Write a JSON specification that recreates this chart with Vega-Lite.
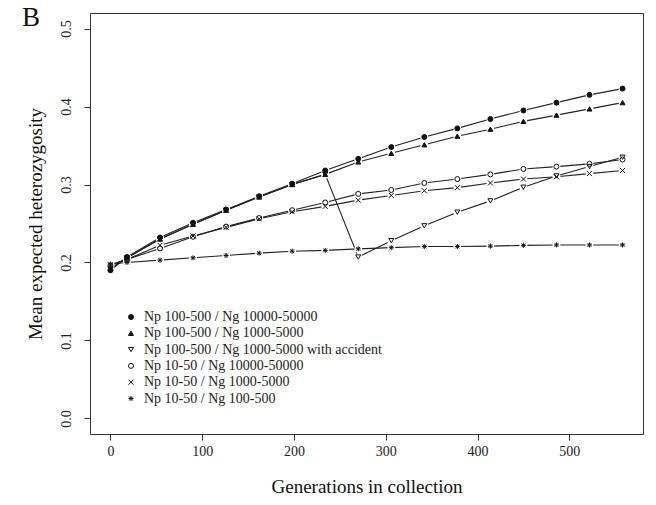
{
  "$schema": "https://vega.github.io/schema/vega-lite/v6.json",
  "width": 553,
  "height": 421,
  "autosize": {"type": "none"},
  "padding": {"left": 90, "top": 13, "right": 13, "bottom": 71},
  "background": "white",
  "title": {"text": "B", "anchor": "start", "frame": "group", "font": "Liberation Serif", "fontSize": 27, "fontWeight": "normal", "color": "#111", "dx": -68, "offset": -40, "baseline": "alphabetic"},
  "config": {
    "view": {"stroke": "#333", "strokeWidth": 1},
    "axis": {"grid": false, "domain": false, "tickColor": "#333", "tickSize": 6, "labelFont": "Liberation Serif", "labelFontSize": 14, "labelColor": "#222", "titleFont": "Liberation Serif", "titleFontSize": 19, "titleFontWeight": "normal", "titleColor": "#111"},
    "legend": {"labelFont": "Liberation Serif", "labelFontSize": 14, "labelColor": "#222", "labelLimit": 400}
  },
  "data": {"values": [
    {"g":0,"h":0.190,"s":"Np 100-500 / Ng 10000-50000"},{"g":18,"h":0.207,"s":"Np 100-500 / Ng 10000-50000"},{"g":54,"h":0.232,"s":"Np 100-500 / Ng 10000-50000"},{"g":90,"h":0.251,"s":"Np 100-500 / Ng 10000-50000"},{"g":126,"h":0.268,"s":"Np 100-500 / Ng 10000-50000"},{"g":162,"h":0.285,"s":"Np 100-500 / Ng 10000-50000"},{"g":198,"h":0.301,"s":"Np 100-500 / Ng 10000-50000"},{"g":234,"h":0.318,"s":"Np 100-500 / Ng 10000-50000"},{"g":270,"h":0.333,"s":"Np 100-500 / Ng 10000-50000"},{"g":306,"h":0.348,"s":"Np 100-500 / Ng 10000-50000"},{"g":342,"h":0.361,"s":"Np 100-500 / Ng 10000-50000"},{"g":378,"h":0.372,"s":"Np 100-500 / Ng 10000-50000"},{"g":414,"h":0.384,"s":"Np 100-500 / Ng 10000-50000"},{"g":450,"h":0.395,"s":"Np 100-500 / Ng 10000-50000"},{"g":486,"h":0.405,"s":"Np 100-500 / Ng 10000-50000"},{"g":522,"h":0.415,"s":"Np 100-500 / Ng 10000-50000"},{"g":558,"h":0.423,"s":"Np 100-500 / Ng 10000-50000"},
    {"g":0,"h":0.192,"s":"Np 100-500 / Ng 1000-5000"},{"g":18,"h":0.206,"s":"Np 100-500 / Ng 1000-5000"},{"g":54,"h":0.230,"s":"Np 100-500 / Ng 1000-5000"},{"g":90,"h":0.249,"s":"Np 100-500 / Ng 1000-5000"},{"g":126,"h":0.267,"s":"Np 100-500 / Ng 1000-5000"},{"g":162,"h":0.284,"s":"Np 100-500 / Ng 1000-5000"},{"g":198,"h":0.300,"s":"Np 100-500 / Ng 1000-5000"},{"g":234,"h":0.313,"s":"Np 100-500 / Ng 1000-5000"},{"g":270,"h":0.329,"s":"Np 100-500 / Ng 1000-5000"},{"g":306,"h":0.340,"s":"Np 100-500 / Ng 1000-5000"},{"g":342,"h":0.351,"s":"Np 100-500 / Ng 1000-5000"},{"g":378,"h":0.362,"s":"Np 100-500 / Ng 1000-5000"},{"g":414,"h":0.371,"s":"Np 100-500 / Ng 1000-5000"},{"g":450,"h":0.381,"s":"Np 100-500 / Ng 1000-5000"},{"g":486,"h":0.389,"s":"Np 100-500 / Ng 1000-5000"},{"g":522,"h":0.397,"s":"Np 100-500 / Ng 1000-5000"},{"g":558,"h":0.405,"s":"Np 100-500 / Ng 1000-5000"},
    {"g":0,"h":0.192,"s":"Np 100-500 / Ng 1000-5000 with accident"},{"g":18,"h":0.206,"s":"Np 100-500 / Ng 1000-5000 with accident"},{"g":54,"h":0.230,"s":"Np 100-500 / Ng 1000-5000 with accident"},{"g":90,"h":0.249,"s":"Np 100-500 / Ng 1000-5000 with accident"},{"g":126,"h":0.267,"s":"Np 100-500 / Ng 1000-5000 with accident"},{"g":162,"h":0.284,"s":"Np 100-500 / Ng 1000-5000 with accident"},{"g":198,"h":0.300,"s":"Np 100-500 / Ng 1000-5000 with accident"},{"g":234,"h":0.313,"s":"Np 100-500 / Ng 1000-5000 with accident"},{"g":270,"h":0.207,"s":"Np 100-500 / Ng 1000-5000 with accident"},{"g":306,"h":0.228,"s":"Np 100-500 / Ng 1000-5000 with accident"},{"g":342,"h":0.247,"s":"Np 100-500 / Ng 1000-5000 with accident"},{"g":378,"h":0.2645,"s":"Np 100-500 / Ng 1000-5000 with accident"},{"g":414,"h":0.279,"s":"Np 100-500 / Ng 1000-5000 with accident"},{"g":450,"h":0.2965,"s":"Np 100-500 / Ng 1000-5000 with accident"},{"g":486,"h":0.311,"s":"Np 100-500 / Ng 1000-5000 with accident"},{"g":522,"h":0.323,"s":"Np 100-500 / Ng 1000-5000 with accident"},{"g":558,"h":0.335,"s":"Np 100-500 / Ng 1000-5000 with accident"},
    {"g":0,"h":0.196,"s":"Np 10-50 / Ng 10000-50000"},{"g":18,"h":0.204,"s":"Np 10-50 / Ng 10000-50000"},{"g":54,"h":0.218,"s":"Np 10-50 / Ng 10000-50000"},{"g":90,"h":0.233,"s":"Np 10-50 / Ng 10000-50000"},{"g":126,"h":0.246,"s":"Np 10-50 / Ng 10000-50000"},{"g":162,"h":0.257,"s":"Np 10-50 / Ng 10000-50000"},{"g":198,"h":0.267,"s":"Np 10-50 / Ng 10000-50000"},{"g":234,"h":0.277,"s":"Np 10-50 / Ng 10000-50000"},{"g":270,"h":0.288,"s":"Np 10-50 / Ng 10000-50000"},{"g":306,"h":0.293,"s":"Np 10-50 / Ng 10000-50000"},{"g":342,"h":0.302,"s":"Np 10-50 / Ng 10000-50000"},{"g":378,"h":0.307,"s":"Np 10-50 / Ng 10000-50000"},{"g":414,"h":0.313,"s":"Np 10-50 / Ng 10000-50000"},{"g":450,"h":0.320,"s":"Np 10-50 / Ng 10000-50000"},{"g":486,"h":0.323,"s":"Np 10-50 / Ng 10000-50000"},{"g":522,"h":0.3265,"s":"Np 10-50 / Ng 10000-50000"},{"g":558,"h":0.332,"s":"Np 10-50 / Ng 10000-50000"},
    {"g":0,"h":0.197,"s":"Np 10-50 / Ng 1000-5000"},{"g":18,"h":0.204,"s":"Np 10-50 / Ng 1000-5000"},{"g":54,"h":0.222,"s":"Np 10-50 / Ng 1000-5000"},{"g":90,"h":0.234,"s":"Np 10-50 / Ng 1000-5000"},{"g":126,"h":0.245,"s":"Np 10-50 / Ng 1000-5000"},{"g":162,"h":0.256,"s":"Np 10-50 / Ng 1000-5000"},{"g":198,"h":0.265,"s":"Np 10-50 / Ng 1000-5000"},{"g":234,"h":0.272,"s":"Np 10-50 / Ng 1000-5000"},{"g":270,"h":0.280,"s":"Np 10-50 / Ng 1000-5000"},{"g":306,"h":0.286,"s":"Np 10-50 / Ng 1000-5000"},{"g":342,"h":0.292,"s":"Np 10-50 / Ng 1000-5000"},{"g":378,"h":0.296,"s":"Np 10-50 / Ng 1000-5000"},{"g":414,"h":0.302,"s":"Np 10-50 / Ng 1000-5000"},{"g":450,"h":0.307,"s":"Np 10-50 / Ng 1000-5000"},{"g":486,"h":0.310,"s":"Np 10-50 / Ng 1000-5000"},{"g":522,"h":0.314,"s":"Np 10-50 / Ng 1000-5000"},{"g":558,"h":0.318,"s":"Np 10-50 / Ng 1000-5000"},
    {"g":0,"h":0.198,"s":"Np 10-50 / Ng 100-500"},{"g":18,"h":0.200,"s":"Np 10-50 / Ng 100-500"},{"g":54,"h":0.203,"s":"Np 10-50 / Ng 100-500"},{"g":90,"h":0.206,"s":"Np 10-50 / Ng 100-500"},{"g":126,"h":0.209,"s":"Np 10-50 / Ng 100-500"},{"g":162,"h":0.212,"s":"Np 10-50 / Ng 100-500"},{"g":198,"h":0.2145,"s":"Np 10-50 / Ng 100-500"},{"g":234,"h":0.2155,"s":"Np 10-50 / Ng 100-500"},{"g":270,"h":0.2175,"s":"Np 10-50 / Ng 100-500"},{"g":306,"h":0.219,"s":"Np 10-50 / Ng 100-500"},{"g":342,"h":0.2205,"s":"Np 10-50 / Ng 100-500"},{"g":378,"h":0.2205,"s":"Np 10-50 / Ng 100-500"},{"g":414,"h":0.221,"s":"Np 10-50 / Ng 100-500"},{"g":450,"h":0.222,"s":"Np 10-50 / Ng 100-500"},{"g":486,"h":0.2225,"s":"Np 10-50 / Ng 100-500"},{"g":522,"h":0.2225,"s":"Np 10-50 / Ng 100-500"},{"g":558,"h":0.2225,"s":"Np 10-50 / Ng 100-500"}
  ]},
  "encoding": {
    "x": {"field": "g", "type": "quantitative", "scale": {"domain": [-22.3, 580.3], "nice": false, "zero": false}, "axis": {"values": [0, 100, 200, 300, 400, 500], "labelPadding": 4, "titlePadding": 19, "title": "Generations in collection"}},
    "y": {"field": "h", "type": "quantitative", "scale": {"domain": [-0.02, 0.52], "nice": false, "zero": false}, "axis": {"values": [0, 0.1, 0.2, 0.3, 0.4, 0.5], "format": ".1f", "labelAngle": -90, "labelAlign": "center", "labelBaseline": "bottom", "labelPadding": 11, "titlePadding": 14, "title": "Mean expected heterozygosity"}}
  },
  "layer": [
    {"mark": {"type": "line", "color": "#222", "strokeWidth": 1.1}, "encoding": {"detail": {"field": "s"}}},
    {"mark": {"type": "point", "shape": "circle", "filled": true, "color": "white", "size": 60, "opacity": 1}},
    {"mark": {"type": "point", "filled": true, "strokeWidth": 1, "size": 25, "opacity": 1},
     "encoding": {
       "shape": {"field": "s", "type": "nominal",
         "scale": {"domain": ["Np 100-500 / Ng 10000-50000", "Np 100-500 / Ng 1000-5000", "Np 100-500 / Ng 1000-5000 with accident", "Np 10-50 / Ng 10000-50000", "Np 10-50 / Ng 1000-5000", "Np 10-50 / Ng 100-500"],
                   "range": ["circle", "triangle-up", "triangle-down", "circle", "M-1,-1L1,1M-1,1L1,-1", "M-1,0L1,0M0,-1L0,1M-0.75,-0.75L0.75,0.75M-0.75,0.75L0.75,-0.75"]},
         "legend": {"orient": "none", "legendX": 34, "legendY": 297, "title": null, "padding": 0, "rowPadding": 2.3, "labelOffset": 6, "symbolStrokeWidth": 1, "symbolSize": 25}},
       "fill": {"field": "s", "type": "nominal",
         "scale": {"domain": ["Np 100-500 / Ng 10000-50000", "Np 100-500 / Ng 1000-5000", "Np 100-500 / Ng 1000-5000 with accident", "Np 10-50 / Ng 10000-50000", "Np 10-50 / Ng 1000-5000", "Np 10-50 / Ng 100-500"],
                   "range": ["#111", "#111", "transparent", "transparent", "transparent", "transparent"]},
         "legend": {"orient": "none", "legendX": 34, "legendY": 297, "title": null, "padding": 0, "rowPadding": 2.3, "labelOffset": 6, "symbolStrokeWidth": 1, "symbolSize": 25}},
       "stroke": {"field": "s", "type": "nominal",
         "scale": {"domain": ["Np 100-500 / Ng 10000-50000", "Np 100-500 / Ng 1000-5000", "Np 100-500 / Ng 1000-5000 with accident", "Np 10-50 / Ng 10000-50000", "Np 10-50 / Ng 1000-5000", "Np 10-50 / Ng 100-500"],
                   "range": ["#111", "#111", "#111", "#111", "#111", "#111"]},
         "legend": {"orient": "none", "legendX": 34, "legendY": 297, "title": null, "padding": 0, "rowPadding": 2.3, "labelOffset": 6, "symbolStrokeWidth": 1, "symbolSize": 25}}
     }}
  ]
}
